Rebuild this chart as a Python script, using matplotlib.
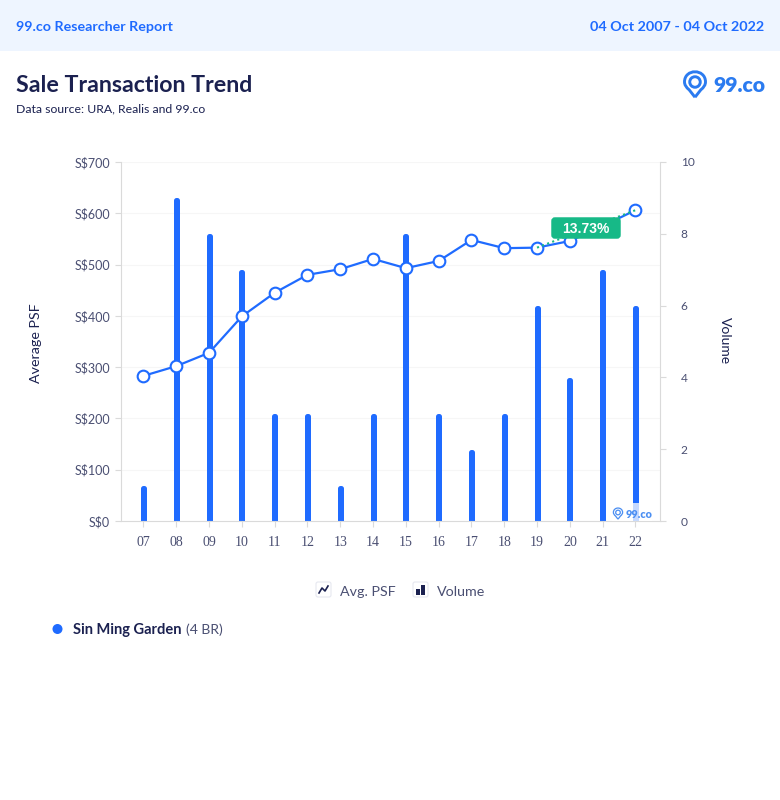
"""
Sale Transaction Trend - 99.co researcher report.
Average PSF line over yearly transaction volume bars.
"""

import matplotlib
matplotlib.use("Agg")
import matplotlib.pyplot as plt
from matplotlib.patches import Circle, FancyBboxPatch, PathPatch, Rectangle
from matplotlib.path import Path
from matplotlib.transforms import ScaledTranslation

years = ["07", "08", "09", "10", "11", "12", "13", "14", "15", "16", "17", "18", "19", "20", "21", "22"]
avg_psf = [283, 302, 328, 399, 445, 480, 491, 511, 493, 507, 548, 532, 533, 546, 575, 606]
volume = [1, 9, 8, 7, 3, 3, 1, 3, 8, 3, 2, 3, 6, 4, 7, 6]
psf_ticks = [0, 100, 200, 300, 400, 500, 600, 700]
volume_ticks = [0, 2, 4, 6, 8, 10]

BLUE = "#1F6BFF"
LOGO_BLUE = "#2B7BF0"
NAVY = "#1B2150"
GREY_TEXT = "#4A4F72"
AXIS = "#DADADA"
GREEN = "#17B987"

W, H = 780, 800
plt.rcParams["font.family"] = ["Lato", "DejaVu Sans"]

fig = plt.figure(figsize=(W / 100, H / 100), dpi=100, facecolor="white")

# bottom layer: whole figure in pixel coordinates
bg = fig.add_axes([0, 0, 1, 1], zorder=0)
bg.set_xlim(0, W)
bg.set_ylim(H, 0)
bg.axis("off")

# chart axes: grid under the bars, line over them
left, right, top, bottom = 121, 660, 162, 521
rect = [left / W, 1 - bottom / H, (right - left) / W, (bottom - top) / H]
ax_grid = fig.add_axes(rect, zorder=0.5)
ax_vol = fig.add_axes(rect, zorder=1)
ax_psf = fig.add_axes(rect, zorder=2)
ax_vol.patch.set_visible(False)
ax_psf.patch.set_visible(False)

ax_grid.set_ylim(0, 700)
ax_grid.set_yticks(psf_ticks)
ax_grid.set_xticks([])
ax_grid.tick_params(axis="y", length=0, labelleft=False)
ax_grid.grid(axis="y", color="#F6F6F6", linewidth=0.8)
for side in ax_grid.spines:
    ax_grid.spines[side].set_visible(False)

x = list(range(len(years)))
xlim = (-0.686, 15.75)

# bars: thin rectangle + thick round edge gives the rounded top
bars = ax_vol.bar(x, volume, width=0.03, color=BLUE, edgecolor=BLUE, linewidth=3.6,
                  joinstyle="round", zorder=2)
shift = ScaledTranslation(0, -1.8 / 72, fig.dpi_scale_trans)
for b in bars:
    b.set_transform(ax_vol.transData + shift)

ax_vol.set_xlim(xlim)
ax_vol.set_ylim(0, 10)
ax_vol.yaxis.tick_right()
ax_vol.set_yticks(volume_ticks)
ax_vol.set_xticks([])

ax_psf.plot(x, avg_psf, color=BLUE, linewidth=1.6, marker="o", markersize=8.4,
            markerfacecolor="white", markeredgecolor=BLUE, markeredgewidth=1.5, zorder=3)
ax_psf.plot([x[12], x[15]], [avg_psf[12], avg_psf[15]], color=GREEN, linewidth=1.5,
            linestyle=(0, (1, 1.6)), zorder=4)
ax_psf.set_xlim(xlim)
ax_psf.set_ylim(0, 700)
ax_psf.set_xticks(x)
ax_psf.set_xticklabels(years, family="Liberation Serif", fontsize=10, color=GREY_TEXT)
ax_psf.set_yticks(psf_ticks)
ax_psf.set_yticklabels([f"S${v}" for v in psf_ticks], fontsize=9, color=GREY_TEXT)

for a in (ax_vol, ax_psf):
    for side in a.spines:
        a.spines[side].set_visible(False)
ax_psf.spines["left"].set_visible(True)
ax_psf.spines["bottom"].set_visible(True)
ax_psf.spines["left"].set_color(AXIS)
ax_psf.spines["bottom"].set_color(AXIS)
ax_vol.spines["right"].set_visible(True)
ax_vol.spines["right"].set_color(AXIS)
ax_psf.tick_params(axis="x", length=4, color=AXIS, pad=7)
ax_psf.tick_params(axis="y", length=4, color=AXIS, pad=4)
ax_vol.tick_params(axis="y", length=4, color=AXIS, pad=11, labelsize=8.6, labelcolor=GREY_TEXT)

# top layer: header, titles, legend, badge, logos
fg = fig.add_axes([0, 0, 1, 1], zorder=3)
fg.set_xlim(0, W)
fg.set_ylim(H, 0)
fg.axis("off")

bg.add_patch(Rectangle((0, 0), W, 51, facecolor="#EEF5FF", edgecolor="none"))
fg.text(16, 27, "99.co Researcher Report", color=BLUE, fontsize=10.3, fontweight="bold", va="center")
fg.text(764, 27, "04 Oct 2007 - 04 Oct 2022", color=BLUE, fontsize=10.35, fontweight="bold",
        va="center", ha="right")
fg.text(16, 85, "Sale Transaction Trend", color=NAVY, fontsize=16.7, fontweight="bold", va="center")
fg.text(16, 109, "Data source: URA, Realis and 99.co", color=NAVY, fontsize=8.8, va="center")

fg.text(36, 343, "Average PSF", color=NAVY, fontsize=10.3, rotation=90, va="center", ha="center")
fg.text(725, 341, "Volume", color=NAVY, fontsize=10, rotation=-90, va="center", ha="center")


def draw_pin(cx, cy, s, color):
    # map pin: outline with an inner ring, s = half width in px
    verts = [(cx, cy + 1.45 * s), (cx - 0.55 * s, cy + 0.75 * s), (cx - s, cy + 0.4 * s),
             (cx - s, cy), (cx - s, cy - 1.3 * s), (cx + s, cy - 1.3 * s),
             (cx + s, cy), (cx + s, cy + 0.4 * s), (cx + 0.55 * s, cy + 0.75 * s),
             (cx, cy + 1.45 * s)]
    codes = [Path.MOVETO, Path.LINETO, Path.CURVE3, Path.CURVE3, Path.CURVE4, Path.CURVE4,
             Path.CURVE4, Path.CURVE3, Path.CURVE3, Path.LINETO]
    fg.add_patch(PathPatch(Path(verts, codes), facecolor="none", edgecolor=color, linewidth=s * 0.2))
    fg.add_patch(Circle((cx, cy), 0.5 * s, facecolor="none", edgecolor=color, linewidth=s * 0.2))


# logo top right
draw_pin(695, 82, 10.5, LOGO_BLUE)
fg.text(713, 85, "99.co", color=LOGO_BLUE, fontsize=15.2, fontweight="heavy", va="center")

# watermark over the last bars
fg.add_patch(Rectangle((612, 503), 40, 18, facecolor="white", alpha=0.75, edgecolor="none"))
draw_pin(618, 512.5, 4.6, "#4C8FF2")
fg.text(626, 514, "99.co", color="#4C8FF2", fontsize=7.8, fontweight="heavy", va="center")

# change badge
fg.add_patch(FancyBboxPatch((553, 219), 66, 18, boxstyle="round,pad=0,rounding_size=2",
                            mutation_aspect=1, facecolor=GREEN, edgecolor=GREEN, linewidth=2.5))
fg.text(586, 229, "13.73%", color="white", fontsize=10, fontweight="bold",
        family="Liberation Sans", ha="center", va="center")

# legend
fg.add_patch(FancyBboxPatch((316, 582), 15, 15, boxstyle="round,pad=0,rounding_size=2",
                            facecolor="white", edgecolor="#E6E8F0", linewidth=0.8))
fg.plot([319, 322, 325, 328], [593, 588, 591, 586], color=NAVY, linewidth=1.2)
fg.text(340, 592, "Avg. PSF", color=GREY_TEXT, fontsize=10.3, va="center")
fg.add_patch(FancyBboxPatch((413, 582), 15, 15, boxstyle="round,pad=0,rounding_size=2",
                            facecolor="white", edgecolor="#E6E8F0", linewidth=0.8))
fg.add_patch(Rectangle((416, 589), 3.5, 6, facecolor=NAVY, edgecolor="none"))
fg.add_patch(Rectangle((421, 584.5), 4, 10.5, facecolor=NAVY, edgecolor="none"))
fg.text(437, 592, "Volume", color=GREY_TEXT, fontsize=10.3, va="center")

# series row
fg.add_patch(Circle((57.5, 629), 5, facecolor=BLUE, edgecolor="none"))
fg.text(73, 630, "Sin Ming Garden", color=NAVY, fontsize=10.5, fontweight="bold", va="center")
fg.text(186, 630, "(4 BR)", color=GREY_TEXT, fontsize=10, va="center")

fig.savefig("out.png", dpi=100)
